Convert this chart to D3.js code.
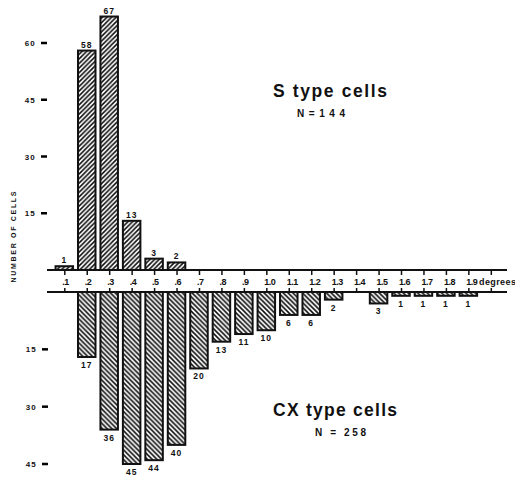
<!DOCTYPE html>
<html>
<head>
<meta charset="utf-8">
<script src="https://cdn.jsdelivr.net/npm/d3@7"></script>
<style>
  html, body { margin: 0; padding: 0; background: #fff; }
  svg { display: block; }
  text { font-family: "Liberation Sans", Arial, sans-serif; fill: #111; }
</style>
</head>
<body>
<svg id="chart" width="515" height="478"></svg>
<script>
// Receptive-field size bins (degrees) and cell counts per bin
const binValues = [0.1, 0.2, 0.3, 0.4, 0.5, 0.6, 0.7, 0.8, 0.9, 1.0,
                   1.1, 1.2, 1.3, 1.4, 1.5, 1.6, 1.7, 1.8, 1.9];
const binLabels = [".1", ".2", ".3", ".4", ".5", ".6", ".7", ".8", ".9", "1.0",
                   "1.1", "1.2", "1.3", "1.4", "1.5", "1.6", "1.7", "1.8", "1.9"];
const tickValues = [0.1, 0.2, 0.3, 0.4, 0.5, 0.6, 0.7, 0.8, 0.9, 1.0,
                    1.1, 1.2, 1.3, 1.4, 1.5, 1.6, 1.7, 1.8, 1.9, 2.0];
const sCounts  = [1, 58, 67, 13, 3, 2, 0, 0, 0, 0, 0, 0, 0, 0, 0, 0, 0, 0, 0];
const cxCounts = [0, 17, 36, 45, 44, 40, 20, 13, 11, 10, 6, 6, 2, 0, 3, 1, 1, 1, 1];
const sTicks  = [15, 30, 45, 60];
const cxTicks = [15, 30, 45];

const svg = d3.select("#chart");

// Hatch patterns: "/" for the upper histogram, "\" for the lower one
const defs = svg.append("defs");
const hatchUp = defs.append("pattern")
  .attr("id", "hatchUp").attr("patternUnits", "userSpaceOnUse")
  .attr("width", 4.6).attr("height", 4.6);
hatchUp.append("path")
  .attr("d", "M-1,1 L1,-1 M0,4.6 L4.6,0 M3.6,5.6 L5.6,3.6")
  .attr("stroke", "#111").attr("stroke-width", 1.6);
const hatchDown = defs.append("pattern")
  .attr("id", "hatchDown").attr("patternUnits", "userSpaceOnUse")
  .attr("width", 4.8).attr("height", 4.8);
hatchDown.append("path")
  .attr("d", "M-1,3.8 L1,5.8 M0,0 L4.8,4.8 M3.8,-1 L5.8,1")
  .attr("stroke", "#111").attr("stroke-width", 1.6);

// Scales
const x = d3.scaleLinear().domain([0.1, 2.0]).range([64.3, 490.8]);
const topBase = 270, botBase = 292;
const yS = d3.scaleLinear().domain([0, 60]).range([topBase, 43]);
const yC = d3.scaleLinear().domain([0, 45]).range([botBase, 464]);
const barW = 17.5;

const sData = binValues.map((v, i) => ({ v, n: sCounts[i] })).filter(d => d.n > 0);
const cxData = binValues.map((v, i) => ({ v, n: cxCounts[i] })).filter(d => d.n > 0);

// Left count axes: numeric labels from d3 axes
function drawCountAxis(scale, ticks, x0) {
  const g = svg.append("g").attr("transform", `translate(${x0},0)`);
  g.call(d3.axisLeft(scale).tickValues(ticks).tickSize(0).tickPadding(11));
  g.select(".domain").remove();
  g.selectAll(".tick text")
    .style("font-size", "8px").style("font-weight", "bold")
    .style("letter-spacing", "1.2px").attr("fill", "#111");
}
drawCountAxis(yS, sTicks, 47);
drawCountAxis(yC, cxTicks, 48);

// Upper histogram: S type cells
svg.append("g").selectAll("rect").data(sData).join("rect")
  .attr("x", d => x(d.v) - barW / 2)
  .attr("y", d => yS(d.n))
  .attr("width", barW)
  .attr("height", d => topBase - yS(d.n))
  .attr("fill", "url(#hatchUp)")
  .attr("stroke", "#111").attr("stroke-width", 2);
svg.append("g").selectAll("text").data(sData).join("text")
  .attr("x", d => x(d.v))
  .attr("y", d => yS(d.n) - 3)
  .attr("text-anchor", "middle")
  .style("font-size", "8.5px").style("font-weight", "bold").style("letter-spacing", "1px")
  .text(d => d.n);

// Lower histogram: CX type cells
svg.append("g").selectAll("rect").data(cxData).join("rect")
  .attr("x", d => x(d.v) - barW / 2)
  .attr("y", botBase)
  .attr("width", barW)
  .attr("height", d => yC(d.n) - botBase)
  .attr("fill", "url(#hatchDown)")
  .attr("stroke", "#111").attr("stroke-width", 2);
svg.append("g").selectAll("text").data(cxData).join("text")
  .attr("x", d => x(d.v))
  .attr("y", d => yC(d.n) + 11)
  .attr("text-anchor", "middle")
  .style("font-size", "8.5px").style("font-weight", "bold").style("letter-spacing", "1px")
  .text(d => d.n);

// Central strip: two baselines with facing ticks and bin labels between
function styleStrip(g) {
  g.select(".domain").remove();
  g.selectAll(".tick line").attr("stroke", "#111").attr("stroke-width", 1.5);
}
svg.append("g").attr("transform", `translate(0,${topBase})`)
  .call(d3.axisBottom(x).tickValues(tickValues).tickSize(5).tickFormat(""))
  .call(styleStrip);
svg.append("g").attr("transform", `translate(0,${botBase})`)
  .call(d3.axisTop(x).tickValues(tickValues).tickSize(4).tickFormat(""))
  .call(styleStrip);
svg.append("line").attr("x1", 47).attr("x2", 507)
  .attr("y1", topBase).attr("y2", topBase)
  .attr("stroke", "#111").attr("stroke-width", 2.2);
svg.append("line").attr("x1", 47).attr("x2", 507)
  .attr("y1", botBase).attr("y2", botBase)
  .attr("stroke", "#111").attr("stroke-width", 2.2);

svg.append("g").selectAll("text").data(binValues).join("text")
  .attr("x", d => x(d) - 2)
  .attr("y", 285)
  .style("font-size", "9px").style("font-weight", "bold").style("letter-spacing", "-0.5px")
  .text((d, i) => binLabels[i]);
svg.append("text")
  .attr("x", 479).attr("y", 285)
  .style("font-size", "9px").style("font-weight", "bold").style("letter-spacing", "0.4px")
  .text("degrees");

// Vertical axis title
svg.append("text")
  .attr("transform", "translate(16,237) rotate(-90)")
  .attr("text-anchor", "middle")
  .attr("textLength", 91).attr("lengthAdjust", "spacing")
  .style("font-size", "7px").style("font-weight", "bold")
  .text("NUMBER OF CELLS");

// Panel titles
svg.append("text")
  .attr("x", 273).attr("y", 97)
  .attr("textLength", 114).attr("lengthAdjust", "spacing")
  .style("font-size", "17.5px").style("font-weight", "bold")
  .text("S type cells");
svg.append("text")
  .attr("x", 297).attr("y", 117)
  .attr("textLength", 48).attr("lengthAdjust", "spacing")
  .style("font-size", "10px").style("font-weight", "bold")
  .text("N=144");
svg.append("text")
  .attr("x", 273).attr("y", 416)
  .attr("textLength", 124).attr("lengthAdjust", "spacing")
  .style("font-size", "17.5px").style("font-weight", "bold")
  .text("CX type cells");
svg.append("text")
  .attr("x", 315).attr("y", 436)
  .attr("textLength", 51).attr("lengthAdjust", "spacing")
  .style("font-size", "10px").style("font-weight", "bold")
  .text("N = 258");

// Short dash marks beside the count labels, drawn last so nothing covers them
const dashes = sTicks.map(v => ({ y: yS(v), x0: 47 }))
  .concat(cxTicks.map(v => ({ y: yC(v), x0: 48 })));
svg.append("g").attr("class", "count-dashes")
  .selectAll("rect").data(dashes).join("rect")
  .attr("x", d => d.x0 - 6).attr("y", d => d.y - 1.25)
  .attr("width", 6).attr("height", 2.5)
  .style("fill", "#000");
</script>
</body>
</html>
